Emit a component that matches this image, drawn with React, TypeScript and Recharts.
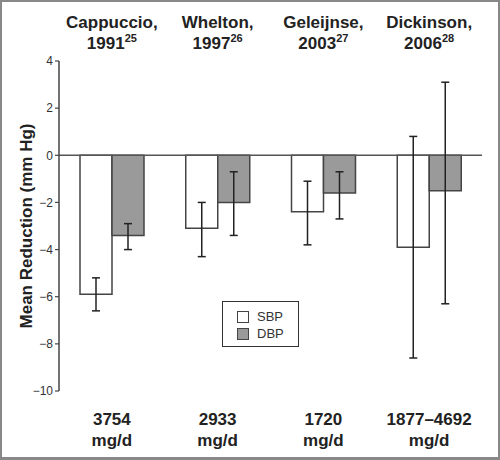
import React from 'react';
import { BarChart, Bar, XAxis, YAxis, ErrorBar, ReferenceLine } from 'recharts';

const studies = ['Cappuccio,', 'Whelton,', 'Geleijnse,', 'Dickinson,'];
const years = ['1991', '1997', '2003', '2006'];
const refs = ['25', '26', '27', '28'];
const doses = ['3754', '2933', '1720', '1877–4692'];

const sbp = [-5.9, -3.1, -2.4, -3.9];
const sbpLow = [-6.6, -4.3, -3.8, -8.6];
const sbpHigh = [-5.2, -2.0, -1.1, 0.8];

const dbp = [-3.4, -2.0, -1.6, -1.5];
const dbpLow = [-4.0, -3.4, -2.7, -6.3];
const dbpHigh = [-2.9, -0.7, -0.7, 3.1];

const yTicks = [4, 2, 0, -2, -4, -6, -8, -10];

const data = studies.map((s, i) => ({
  study: s,
  dose: doses[i],
  SBP: sbp[i],
  DBP: dbp[i],
  sbpErr: [sbp[i] - sbpLow[i], sbpHigh[i] - sbp[i]],
  dbpErr: [dbp[i] - dbpLow[i], dbpHigh[i] - dbp[i]],
}));

const FONT = '"Liberation Sans", Arial, Helvetica, sans-serif';

const renderTopTick = (props: any) => {
  const { x, y, payload } = props;
  const i = studies.indexOf(payload.value);
  return (
    <g>
      <text x={x} y={y - 31} textAnchor="middle" fontSize={17} fontWeight="bold" fill="#222" fontFamily={FONT}>
        {studies[i]}
      </text>
      <text x={x} y={y - 10} textAnchor="middle" fontSize={17} fontWeight="bold" fill="#222" fontFamily={FONT}>
        {years[i]}
        <tspan fontSize={11} dy={-7}>{refs[i]}</tspan>
      </text>
    </g>
  );
};

const renderBottomTick = (props: any) => {
  const { x, y, payload } = props;
  return (
    <g>
      <text x={x} y={y + 32} textAnchor="middle" fontSize={17} fontWeight="bold" fill="#222" fontFamily={FONT}>
        {payload.value}
      </text>
      <text x={x} y={y + 53} textAnchor="middle" fontSize={17} fontWeight="bold" fill="#222" fontFamily={FONT}>
        mg/d
      </text>
    </g>
  );
};

const LegendBox = () => (
  <div
    style={{
      position: 'absolute',
      left: 222,
      top: 301,
      border: '1.5px solid #333',
      width: 77,
      height: 46,
      padding: '6px 0 0 14px',
      boxSizing: 'border-box',
      background: '#fff',
      fontFamily: FONT,
      fontSize: 13,
      color: '#333',
    }}
  >
    {[
      ['SBP', '#fff'],
      ['DBP', '#9a9a9a'],
    ].map(([name, fill]) => (
      <div key={name} style={{ display: 'flex', alignItems: 'center', height: 17 }}>
        <span
          style={{
            display: 'inline-block',
            width: 10,
            height: 10,
            border: '1.2px solid #444',
            background: fill,
            marginRight: 8,
          }}
        />
        {name}
      </div>
    ))}
  </div>
);

const YTitle = (props: any) => {
  const { viewBox } = props;
  const cy = viewBox.y + viewBox.height / 2;
  return (
    <text
      x={28}
      y={cy}
      transform={`rotate(-90, 28, ${cy})`}
      textAnchor="middle"
      dominantBaseline="middle"
      fontSize={17}
      fontWeight="bold"
      fill="#222"
      fontFamily={FONT}
    >
      Mean Reduction (mm Hg)
    </text>
  );
};

export default function App() {
  return (
    <div style={{ position: 'absolute', left: 0, top: 0, width: 500, height: 460, background: '#fff' }}>
      <BarChart
        width={500}
        height={460}
        data={data}
        margin={{ top: 59, right: 18, bottom: 67, left: 0 }}
        barGap={0}
        barCategoryGap="20%"
      >
        <XAxis
          xAxisId="top"
          orientation="top"
          dataKey="study"
          height={2}
          axisLine={false}
          tickLine={false}
          tickSize={0}
          interval={0}
          tick={renderTopTick}
        />
        <XAxis
          xAxisId="bottom"
          orientation="bottom"
          dataKey="dose"
          height={2}
          axisLine={false}
          tickLine={false}
          tickSize={0}
          interval={0}
          tick={renderBottomTick}
        />
        <YAxis
          width={59}
          domain={[-10, 4]}
          ticks={yTicks}
          interval={0}
          tickSize={4}
          tickMargin={2}
          axisLine={{ stroke: '#444', strokeWidth: 1.5 }}
          tickLine={{ stroke: '#444', strokeWidth: 1.2 }}
          tick={{ fontSize: 12, fill: '#333', fontFamily: FONT }}
          tickFormatter={(v: number) => (v < 0 ? '\u2212' + Math.abs(v) : String(v))}
          label={<YTitle />}
        />
        <ReferenceLine xAxisId="top" y={0} stroke="#555" strokeWidth={1.5} />
        <Bar xAxisId="top" dataKey="SBP" fill="#ffffff" stroke="#444" strokeWidth={1.5} barSize={32} isAnimationActive={false}>
          <ErrorBar dataKey="sbpErr" width={4} stroke="#222" strokeWidth={1.5} direction="y" />
        </Bar>
        <Bar xAxisId="top" dataKey="DBP" fill="#9a9a9a" stroke="#444" strokeWidth={1.5} barSize={32} isAnimationActive={false}>
          <ErrorBar dataKey="dbpErr" width={4} stroke="#222" strokeWidth={1.5} direction="y" />
        </Bar>
      </BarChart>
      <LegendBox />
      <div
        style={{
          position: 'absolute',
          left: 0,
          top: 0,
          width: 500,
          height: 460,
          boxSizing: 'border-box',
          border: '2px solid #888',
          borderBottomWidth: 3,
          pointerEvents: 'none',
        }}
      />
    </div>
  );
}
